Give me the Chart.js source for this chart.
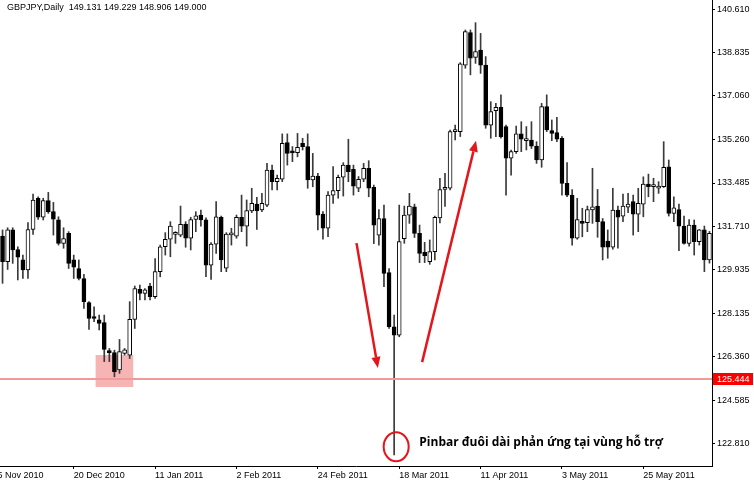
<!DOCTYPE html>
<html>
<head>
<meta charset="utf-8">
<script src="https://cdn.jsdelivr.net/npm/chart.js@4.4.1/dist/chart.umd.min.js"></script>
<style>
  html, body { margin: 0; padding: 0; background: #fff; }
  #wrap { width: 754px; height: 484px; }
</style>
</head>
<body>
<div id="wrap"><canvas id="c" width="754" height="484"></canvas></div>
<script>
// ---- Data ----
const symbolTitle = 'GBPJPY,Daily  149.131 149.229 148.906 149.000';

const opens = [
  131.31,130.26,131.56,130.76,130.33,129.92,131.58,132.86,132.08,132.76,
  132.31,131.97,131.01,131.42,130.33,129.98,129.57,128.58,128.00,127.87,
  127.76,126.61,126.53,125.82,126.50,126.43,127.89,129.12,128.96,129.26,
  128.82,129.85,130.87,131.18,131.38,131.35,131.80,131.22,131.99,132.17,
  131.97,130.12,130.98,132.08,129.99,131.36,131.31,132.08,131.72,132.34,
  132.62,132.38,132.58,134.02,133.54,133.64,135.14,134.77,134.73,135.11,
  134.98,133.61,133.77,132.21,131.63,132.99,133.17,133.72,134.22,134.05,
  133.27,133.64,134.09,133.31,131.35,132.03,129.81,127.59,127.25,131.20,
  132.17,132.51,131.42,130.64,130.26,130.67,132.05,133.22,133.27,135.59,
  135.59,138.32,139.65,138.64,138.94,138.32,135.86,136.45,136.59,135.80,
  134.50,134.77,135.50,135.22,135.25,135.00,134.43,136.62,135.63,135.55,
  135.32,133.47,132.99,131.22,131.90,131.86,132.38,132.54,131.90,131.10,
  130.85,132.38,132.13,132.49,132.72,132.21,132.62,133.44,133.34,133.27,
  133.33,134.15,132.24,132.40,131.72,131.01,131.76,131.08,131.56,130.33
];
const highs = [
  131.56,131.65,131.65,130.87,130.53,131.86,133.03,132.92,132.86,133.10,
  132.69,132.10,131.65,131.49,130.53,130.33,129.74,128.62,128.41,128.07,
  128.07,126.70,126.63,127.07,126.70,128.62,129.26,129.30,129.16,129.37,
  130.39,130.94,131.45,131.90,131.49,132.54,131.90,132.08,132.31,132.38,
  132.06,131.04,132.72,132.13,131.45,131.63,132.17,132.99,132.79,133.27,
  132.90,133.06,134.29,134.22,133.81,135.50,135.50,134.98,135.52,135.32,
  135.50,134.70,133.88,132.31,133.13,134.16,133.81,134.32,135.28,134.22,
  133.75,134.29,134.40,133.40,132.40,132.58,129.98,128.07,132.58,132.54,
  133.06,132.62,131.76,131.05,131.15,132.13,133.68,133.88,135.66,135.86,
  138.42,139.76,139.76,140.06,139.62,138.67,136.82,136.75,137.10,135.86,
  134.84,135.82,136.00,135.80,136.00,135.18,136.75,137.10,136.07,136.18,
  135.39,134.32,133.22,132.86,132.45,132.54,134.09,133.22,132.03,131.56,
  133.27,132.54,133.03,133.06,132.99,133.27,133.74,133.85,133.68,133.54,
  135.18,134.43,132.92,132.62,132.13,131.99,131.97,131.58,131.72,131.50
];
const lows = [
  129.37,129.94,130.19,129.51,129.57,129.57,131.38,131.99,131.97,132.24,
  131.35,130.94,130.81,129.98,129.57,129.51,128.34,127.48,127.80,127.46,
  126.16,126.16,125.54,125.68,126.43,126.29,127.52,128.69,128.69,128.69,
  128.75,129.64,130.53,130.46,131.01,131.28,130.85,130.74,131.49,131.72,
  129.64,129.53,130.60,129.85,129.85,130.94,131.22,131.49,130.90,132.27,
  131.58,132.31,132.51,133.20,133.20,133.54,134.22,134.36,134.56,134.84,
  133.27,133.33,131.56,131.18,131.28,132.65,132.86,132.95,133.54,132.99,
  133.13,133.54,132.92,131.00,130.94,129.23,127.52,122.33,127.18,131.01,
  131.83,131.25,130.22,130.22,130.15,130.33,131.85,132.52,133.20,135.25,
  135.39,138.19,137.92,138.39,137.98,135.73,135.32,135.39,135.32,132.99,
  133.81,134.70,134.77,134.84,134.90,134.29,134.13,135.59,135.22,135.18,
  132.99,132.92,130.94,131.18,131.28,131.49,131.83,131.26,130.33,130.40,
  130.77,130.81,131.90,132.27,131.35,131.49,132.10,132.92,132.72,133.06,
  133.30,132.13,131.90,130.71,130.98,130.90,130.53,130.94,129.85,130.20
];
const closes = [
  130.26,131.56,130.74,130.44,129.92,131.58,132.79,132.08,132.76,132.31,
  132.00,131.01,131.21,130.19,130.03,129.57,128.62,127.93,127.93,127.73,
  126.66,126.53,125.75,126.57,126.64,127.89,129.16,128.96,129.10,128.82,
  129.85,130.87,131.18,131.72,131.43,131.79,131.22,131.99,132.14,131.97,
  130.12,130.98,132.10,130.33,131.39,131.42,132.08,131.72,132.35,132.65,
  132.35,132.65,134.02,133.54,133.68,135.11,134.70,134.72,134.95,134.98,
  133.61,133.77,132.17,131.63,132.99,133.17,133.72,134.22,133.95,133.36,
  133.64,134.09,133.27,131.76,132.03,129.78,127.59,127.25,131.08,132.17,
  132.54,131.42,130.60,130.51,130.67,132.08,133.22,133.31,135.59,135.66,
  138.37,139.69,138.60,138.87,138.32,135.86,136.41,136.59,135.39,134.50,
  134.77,135.50,135.28,135.31,135.00,134.43,136.62,135.66,135.52,135.28,
  133.47,132.99,131.22,131.99,131.83,132.40,132.51,131.90,130.85,130.85,
  132.38,132.08,132.54,132.62,132.21,132.65,133.44,133.33,133.40,133.36,
  134.13,132.24,132.47,131.72,131.01,131.76,131.08,131.56,130.33,131.42
];

// axis ticks
const priceTickValues = [140.610,138.835,137.060,135.260,133.485,131.710,129.935,128.135,126.360,124.585,122.810];
const priceTickLabels = ['140.610','138.835','137.060','135.260','133.485','131.710','129.935','128.135','126.360','124.585','122.810'];
const dateTickIndex  = [-2, 14, 30, 46, 62, 78, 94, 110, 126];
const dateTickLabels = ['25 Nov 2010','20 Dec 2010','11 Jan 2011','2 Feb 2011','24 Feb 2011','18 Mar 2011','11 Apr 2011','3 May 2011','25 May 2011'];

// annotations (in data units: bar index, price)
const supportLevel = 125.444;
const supportLabel = '125.444';
const zoneBars   = [18.3, 25.7];
const zonePrices = [125.12, 126.43];
const arrowDown  = [[69.6, 131.02], [73.8, 125.90]];
const arrowUp    = [[82.5, 126.14], [93.1, 135.22]];
const pinCircle  = [77.4, 122.67];
const noteAnchor = [81.95, 122.69];
const noteText   = 'Pinbar đuôi dài phản ứng tại vùng hỗ trợ';

const priceMin = 121.88, priceMax = 140.99;

// ---- Build datasets ----
const n = opens.length;
const bodies = [], wicks = [], bodyFill = [];
for (let i = 0; i < n; i++) {
  bodies.push({ x: i, y: [opens[i], closes[i]] });
  wicks.push({ x: i, y: [lows[i], highs[i]] });
  bodyFill.push(closes[i] >= opens[i] ? '#ffffff' : '#000000');
}

const FONT = { family: '"Liberation Sans", Arial, sans-serif', size: 9 };
const RED = '#e3161c';

function drawArrow(ctx, x1, y1, x2, y2) {
  const ang = Math.atan2(y2 - y1, x2 - x1);
  const hl = 11, hw = 4.5;
  const bx = x2 - hl * Math.cos(ang), by = y2 - hl * Math.sin(ang);
  ctx.save();
  ctx.strokeStyle = RED; ctx.fillStyle = RED; ctx.lineWidth = 2.5;
  ctx.beginPath(); ctx.moveTo(x1, y1); ctx.lineTo(bx, by); ctx.stroke();
  ctx.beginPath();
  ctx.moveTo(x2, y2);
  ctx.lineTo(bx + hw * Math.sin(ang), by - hw * Math.cos(ang));
  ctx.lineTo(bx - hw * Math.sin(ang), by + hw * Math.cos(ang));
  ctx.closePath(); ctx.fill();
  ctx.restore();
}

const overlay = {
  id: 'overlay',
  beforeDatasetsDraw(chart) {
    const { ctx, scales: { x, y } } = chart;
    const x1 = x.getPixelForValue(zoneBars[0]), x2 = x.getPixelForValue(zoneBars[1]);
    const y1 = y.getPixelForValue(zonePrices[1]), y2 = y.getPixelForValue(zonePrices[0]);
    ctx.save();
    ctx.fillStyle = '#f7b4b4';
    ctx.fillRect(x1, y1, x2 - x1, y2 - y1);
    ctx.restore();
  },
  afterDatasetsDraw(chart) {
    const { ctx, chartArea, scales: { x, y } } = chart;
    ctx.save();
    // support line
    const ys = y.getPixelForValue(supportLevel);
    ctx.strokeStyle = '#f29a9a'; ctx.lineWidth = 2;
    ctx.beginPath(); ctx.moveTo(chartArea.left, ys); ctx.lineTo(chartArea.right, ys); ctx.stroke();
    // arrows
    drawArrow(ctx, x.getPixelForValue(arrowDown[0][0]), y.getPixelForValue(arrowDown[0][1]),
                   x.getPixelForValue(arrowDown[1][0]), y.getPixelForValue(arrowDown[1][1]));
    drawArrow(ctx, x.getPixelForValue(arrowUp[0][0]), y.getPixelForValue(arrowUp[0][1]),
                   x.getPixelForValue(arrowUp[1][0]), y.getPixelForValue(arrowUp[1][1]));
    // circle
    ctx.strokeStyle = RED; ctx.lineWidth = 2;
    ctx.beginPath();
    ctx.ellipse(x.getPixelForValue(pinCircle[0]), y.getPixelForValue(pinCircle[1]), 12.5, 14.5, 0, 0, Math.PI * 2);
    ctx.stroke();
    // note
    ctx.fillStyle = '#000';
    ctx.font = 'bold 12px "Open Sans", "Noto Sans", sans-serif';
    ctx.textBaseline = 'alphabetic'; ctx.textAlign = 'left';
    ctx.fillText(noteText, x.getPixelForValue(noteAnchor[0]), y.getPixelForValue(noteAnchor[1]));
    ctx.restore();
  },
  afterDraw(chart) {
    const { ctx, chartArea, scales: { y } } = chart;
    ctx.save();
    ctx.font = '9px "Liberation Sans", Arial, sans-serif';
    ctx.textBaseline = 'middle'; ctx.textAlign = 'left';
    ctx.fillStyle = '#000';
    ctx.fillText(symbolTitle, 7, 7.5);
    // price label box
    const ys = y.getPixelForValue(supportLevel);
    ctx.fillStyle = '#ff0000';
    ctx.fillRect(chartArea.right + 1, Math.round(ys) - 6, 40, 12);
    ctx.fillStyle = '#ffffff';
    ctx.fillText(supportLabel, chartArea.right + 5, ys);
    ctx.restore();
  }
};

new Chart(document.getElementById('c'), {
  type: 'bar',
  data: {
    datasets: [
      {
        label: 'body', data: bodies, order: 0, grouped: false,
        barThickness: 4, minBarLength: 2,
        backgroundColor: bodyFill, borderColor: '#000', borderWidth: 1, borderSkipped: false
      },
      {
        label: 'wick', data: wicks, order: 1, grouped: false,
        barThickness: 1, backgroundColor: '#3a3a3a', borderWidth: 0
      }
    ]
  },
  options: {
    responsive: false,
    animation: false,
    devicePixelRatio: 1,
    layout: { padding: 0 },
    plugins: { legend: { display: false }, tooltip: { enabled: false } },
    scales: {
      x: {
        type: 'linear', min: -0.5, max: n - 0.5, offset: false, bounds: 'data',
        afterFit(s) { s.height = 18; s.paddingLeft = 0; s.paddingRight = 0; },
        afterBuildTicks(s) { s.ticks = dateTickIndex.map(v => ({ value: v })); },
        ticks: {
          autoSkip: false, maxRotation: 0, minRotation: 0, align: 'start', padding: 1,
          color: '#000', font: FONT,
          callback(v) { const k = dateTickIndex.indexOf(v); return k >= 0 ? dateTickLabels[k] : ''; }
        },
        grid: { drawOnChartArea: false, drawTicks: true, tickLength: 3, color: '#000', offset: false },
        border: { display: true, color: '#000', width: 1 }
      },
      y: {
        type: 'linear', position: 'right', min: priceMin, max: priceMax, bounds: 'data',
        afterFit(s) { s.width = 42; s.paddingTop = 0; s.paddingBottom = 0; },
        afterBuildTicks(s) { s.ticks = priceTickValues.map(v => ({ value: v })); },
        ticks: {
          autoSkip: false, padding: 2, color: '#000', font: FONT,
          callback(v, i) { return priceTickLabels[i]; }
        },
        grid: { drawOnChartArea: false, drawTicks: true, tickLength: 3, color: '#000' },
        border: { display: true, color: '#000', width: 1 }
      }
    }
  },
  plugins: [overlay]
});
</script>
</body>
</html>
